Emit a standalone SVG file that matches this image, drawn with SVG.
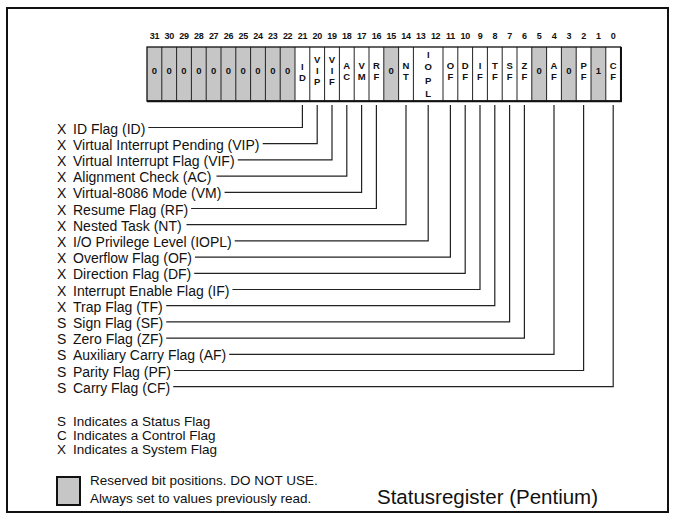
<svg xmlns="http://www.w3.org/2000/svg" width="675" height="518" viewBox="0 0 675 518">
<style>
.num{font-family:"Liberation Sans",Arial,sans-serif;font-weight:bold;font-size:9px;text-anchor:middle;fill:#111;letter-spacing:-0.3px}
.bit{font-family:"Liberation Sans",Arial,sans-serif;font-weight:bold;font-size:9.5px;text-anchor:middle;fill:#111}
.lbl{font-family:"Liberation Sans",Arial,sans-serif;font-size:14px;fill:#111}
.lg{font-family:"Liberation Sans",Arial,sans-serif;font-size:13.5px;fill:#111}
.leg{font-family:"Liberation Sans",Arial,sans-serif;font-size:13.5px;fill:#111}
.title{font-family:"Liberation Sans",Arial,sans-serif;font-size:20.5px;fill:#111}
.div{stroke:#222;stroke-width:1}
.cn{stroke:#222;stroke-width:1.2;fill:none}
.res{fill:#c6c6c6}
</style>
<rect x="0" y="0" width="675" height="518" fill="#fff"/>
<rect x="7" y="8" width="661" height="504" fill="#fff" stroke="#111" stroke-width="2"/>

<g id="bit-numbers">
<text class="num" x="154.4" y="39">31</text><text class="num" x="169.2" y="39">30</text><text class="num" x="184" y="39">29</text><text class="num" x="198.8" y="39">28</text><text class="num" x="213.6" y="39">27</text><text class="num" x="228.4" y="39">26</text><text class="num" x="243.2" y="39">25</text><text class="num" x="258" y="39">24</text><text class="num" x="272.8" y="39">23</text><text class="num" x="287.6" y="39">22</text><text class="num" x="302.4" y="39">21</text><text class="num" x="317.2" y="39">20</text><text class="num" x="332" y="39">19</text><text class="num" x="346.8" y="39">18</text><text class="num" x="361.6" y="39">17</text><text class="num" x="376.4" y="39">16</text><text class="num" x="391.2" y="39">15</text><text class="num" x="406" y="39">14</text><text class="num" x="420.8" y="39">13</text><text class="num" x="435.6" y="39">12</text><text class="num" x="450.4" y="39">11</text><text class="num" x="465.2" y="39">10</text><text class="num" x="480" y="39">9</text><text class="num" x="494.8" y="39">8</text><text class="num" x="509.6" y="39">7</text><text class="num" x="524.4" y="39">6</text><text class="num" x="539.2" y="39">5</text><text class="num" x="554" y="39">4</text><text class="num" x="568.8" y="39">3</text><text class="num" x="583.6" y="39">2</text><text class="num" x="598.4" y="39">1</text><text class="num" x="613.2" y="39">0</text>
</g>

<g id="register">
<rect x="147" y="47" width="473.6" height="54" fill="#fff"/>
<rect class="res" x="147" y="47" width="148" height="54"/>
<rect class="res" x="383.8" y="47" width="14.8" height="54"/>
<rect class="res" x="531.8" y="47" width="14.8" height="54"/>
<rect class="res" x="561.4" y="47" width="14.8" height="54"/>
<rect class="res" x="591" y="47" width="14.8" height="54"/>
<g class="div">
<line x1="161.8" y1="47" x2="161.8" y2="101"/><line x1="176.6" y1="47" x2="176.6" y2="101"/><line x1="191.4" y1="47" x2="191.4" y2="101"/><line x1="206.2" y1="47" x2="206.2" y2="101"/><line x1="221" y1="47" x2="221" y2="101"/><line x1="235.8" y1="47" x2="235.8" y2="101"/><line x1="250.6" y1="47" x2="250.6" y2="101"/><line x1="265.4" y1="47" x2="265.4" y2="101"/><line x1="280.2" y1="47" x2="280.2" y2="101"/><line x1="295" y1="47" x2="295" y2="101"/><line x1="309.8" y1="47" x2="309.8" y2="101"/><line x1="324.6" y1="47" x2="324.6" y2="101"/><line x1="339.4" y1="47" x2="339.4" y2="101"/><line x1="354.2" y1="47" x2="354.2" y2="101"/><line x1="369" y1="47" x2="369" y2="101"/><line x1="383.8" y1="47" x2="383.8" y2="101"/><line x1="398.6" y1="47" x2="398.6" y2="101"/><line x1="413.4" y1="47" x2="413.4" y2="101"/><line x1="443" y1="47" x2="443" y2="101"/><line x1="457.8" y1="47" x2="457.8" y2="101"/><line x1="472.6" y1="47" x2="472.6" y2="101"/><line x1="487.4" y1="47" x2="487.4" y2="101"/><line x1="502.2" y1="47" x2="502.2" y2="101"/><line x1="517" y1="47" x2="517" y2="101"/><line x1="531.8" y1="47" x2="531.8" y2="101"/><line x1="546.6" y1="47" x2="546.6" y2="101"/><line x1="561.4" y1="47" x2="561.4" y2="101"/><line x1="576.2" y1="47" x2="576.2" y2="101"/><line x1="591" y1="47" x2="591" y2="101"/><line x1="605.8" y1="47" x2="605.8" y2="101"/>
</g>
<rect x="147" y="47" width="473.6" height="54" fill="none" stroke="#111" stroke-width="1.3"/>
<line x1="147" y1="101.3" x2="621.6" y2="101.3" stroke="#111" stroke-width="2"/>
<line x1="621" y1="47" x2="621" y2="102" stroke="#111" stroke-width="2"/>
</g>

<g id="bit-values">
<text class="bit" x="154.4" y="74">0</text><text class="bit" x="169.2" y="74">0</text><text class="bit" x="184" y="74">0</text><text class="bit" x="198.8" y="74">0</text><text class="bit" x="213.6" y="74">0</text><text class="bit" x="228.4" y="74">0</text><text class="bit" x="243.2" y="74">0</text><text class="bit" x="258" y="74">0</text><text class="bit" x="272.8" y="74">0</text><text class="bit" x="287.6" y="74">0</text>
<text class="bit" x="391.2" y="74">0</text><text class="bit" x="539.2" y="74">0</text><text class="bit" x="568.8" y="74">0</text><text class="bit" x="598.4" y="74">1</text>
</g>

<g id="ID"><text class="bit" x="302.4" y="70">I</text><text class="bit" x="302.4" y="80.5">D</text></g>
<g id="VIP"><text class="bit" x="317.2" y="63">V</text><text class="bit" x="317.2" y="74">I</text><text class="bit" x="317.2" y="85">P</text></g>
<g id="VIF"><text class="bit" x="332" y="63">V</text><text class="bit" x="332" y="74">I</text><text class="bit" x="332" y="85">F</text></g>
<g id="AC"><text class="bit" x="346.8" y="69">A</text><text class="bit" x="346.8" y="79.5">C</text></g>
<g id="VM"><text class="bit" x="361.6" y="69">V</text><text class="bit" x="361.6" y="79.5">M</text></g>
<g id="RF"><text class="bit" x="376.4" y="69">R</text><text class="bit" x="376.4" y="79.5">F</text></g>
<g id="NT"><text class="bit" x="406" y="69">N</text><text class="bit" x="406" y="79.5">T</text></g>
<g id="IOPL"><text class="bit" x="428.2" y="58">I</text><text class="bit" x="428.2" y="70">O</text><text class="bit" x="428.2" y="83.5">P</text><text class="bit" x="428.2" y="97">L</text></g>
<g id="OF"><text class="bit" x="450.4" y="69">O</text><text class="bit" x="450.4" y="79.5">F</text></g>
<g id="DF"><text class="bit" x="465.2" y="69">D</text><text class="bit" x="465.2" y="79.5">F</text></g>
<g id="IF"><text class="bit" x="480" y="69">I</text><text class="bit" x="480" y="79.5">F</text></g>
<g id="TF"><text class="bit" x="494.8" y="69">T</text><text class="bit" x="494.8" y="79.5">F</text></g>
<g id="SF"><text class="bit" x="509.6" y="69">S</text><text class="bit" x="509.6" y="79.5">F</text></g>
<g id="ZF"><text class="bit" x="524.4" y="69">Z</text><text class="bit" x="524.4" y="79.5">F</text></g>
<g id="AF"><text class="bit" x="554" y="69">A</text><text class="bit" x="554" y="79.5">F</text></g>
<g id="PF"><text class="bit" x="583.6" y="69">P</text><text class="bit" x="583.6" y="79.5">F</text></g>
<g id="CF"><text class="bit" x="613.2" y="69">C</text><text class="bit" x="613.2" y="79.5">F</text></g>

<g id="labels">
<text class="lbl" x="57" y="133.5">X<tspan x="73">ID Flag (ID)</tspan></text>
<text class="lbl" x="57" y="149.7">X<tspan x="73">Virtual Interrupt Pending (VIP)</tspan></text>
<text class="lbl" x="57" y="165.9">X<tspan x="73">Virtual Interrupt Flag (VIF)</tspan></text>
<text class="lbl" x="57" y="182.1">X<tspan x="73">Alignment Check (AC)</tspan></text>
<text class="lbl" x="57" y="198.3">X<tspan x="73">Virtual-8086 Mode (VM)</tspan></text>
<text class="lbl" x="57" y="214.5">X<tspan x="73">Resume Flag (RF)</tspan></text>
<text class="lbl" x="57" y="230.7">X<tspan x="73">Nested Task (NT)</tspan></text>
<text class="lbl" x="57" y="246.9">X<tspan x="73">I/O Privilege Level (IOPL)</tspan></text>
<text class="lbl" x="57" y="263.1">X<tspan x="73">Overflow Flag (OF)</tspan></text>
<text class="lbl" x="57" y="279.3">X<tspan x="73">Direction Flag (DF)</tspan></text>
<text class="lbl" x="57" y="295.5">X<tspan x="73">Interrupt Enable Flag (IF)</tspan></text>
<text class="lbl" x="57" y="311.7">X<tspan x="73">Trap Flag (TF)</tspan></text>
<text class="lbl" x="57" y="327.9">S<tspan x="73">Sign Flag (SF)</tspan></text>
<text class="lbl" x="57" y="344.1">S<tspan x="73">Zero Flag (ZF)</tspan></text>
<text class="lbl" x="57" y="360.3">S<tspan x="73">Auxiliary Carry Flag (AF)</tspan></text>
<text class="lbl" x="57" y="376.5">S<tspan x="73">Parity Flag (PF)</tspan></text>
<text class="lbl" x="57" y="392.7">S<tspan x="73">Carry Flag (CF)</tspan></text>
</g>

<g id="connectors" class="cn">
<path d="M148.3 127.5H302.4V105"/>
<path d="M262.7 143.7H317.2V105"/>
<path d="M237.8 159.9H332V105"/>
<path d="M216.5 176.1H346.8V105"/>
<path d="M224.6 192.3H361.6V105"/>
<path d="M191.1 208.5H376.4V105"/>
<path d="M186.5 224.7H406V105"/>
<path d="M234.7 240.9H428.2V105"/>
<path d="M195 257.1H450.4V105"/>
<path d="M194.2 273.3H465.2V105"/>
<path d="M232.4 289.5H480V105"/>
<path d="M166.2 305.7H494.8V105"/>
<path d="M166.2 321.9H509.6V105"/>
<path d="M166.2 338.1H524.4V105"/>
<path d="M229.2 354.3H554V105"/>
<path d="M174 370.5H583.6V105"/>
<path d="M173.2 386.7H613.2V105"/>
</g>

<g id="legend">
<text class="lg" x="57" y="426">S<tspan x="73">Indicates a Status Flag</tspan></text>
<text class="lg" x="57" y="440">C<tspan x="73">Indicates a Control Flag</tspan></text>
<text class="lg" x="57" y="454">X<tspan x="73">Indicates a System Flag</tspan></text>
<rect x="57" y="477" width="23" height="28" fill="#c6c6c6" stroke="#111" stroke-width="2"/>
<text class="leg" x="90" y="485">Reserved bit positions. DO NOT USE.</text>
<text class="leg" x="90" y="503">Always set to values previously read.</text>
</g>

<g id="title"><text class="title" x="377" y="504">Statusregister (Pentium)</text></g>
</svg>
